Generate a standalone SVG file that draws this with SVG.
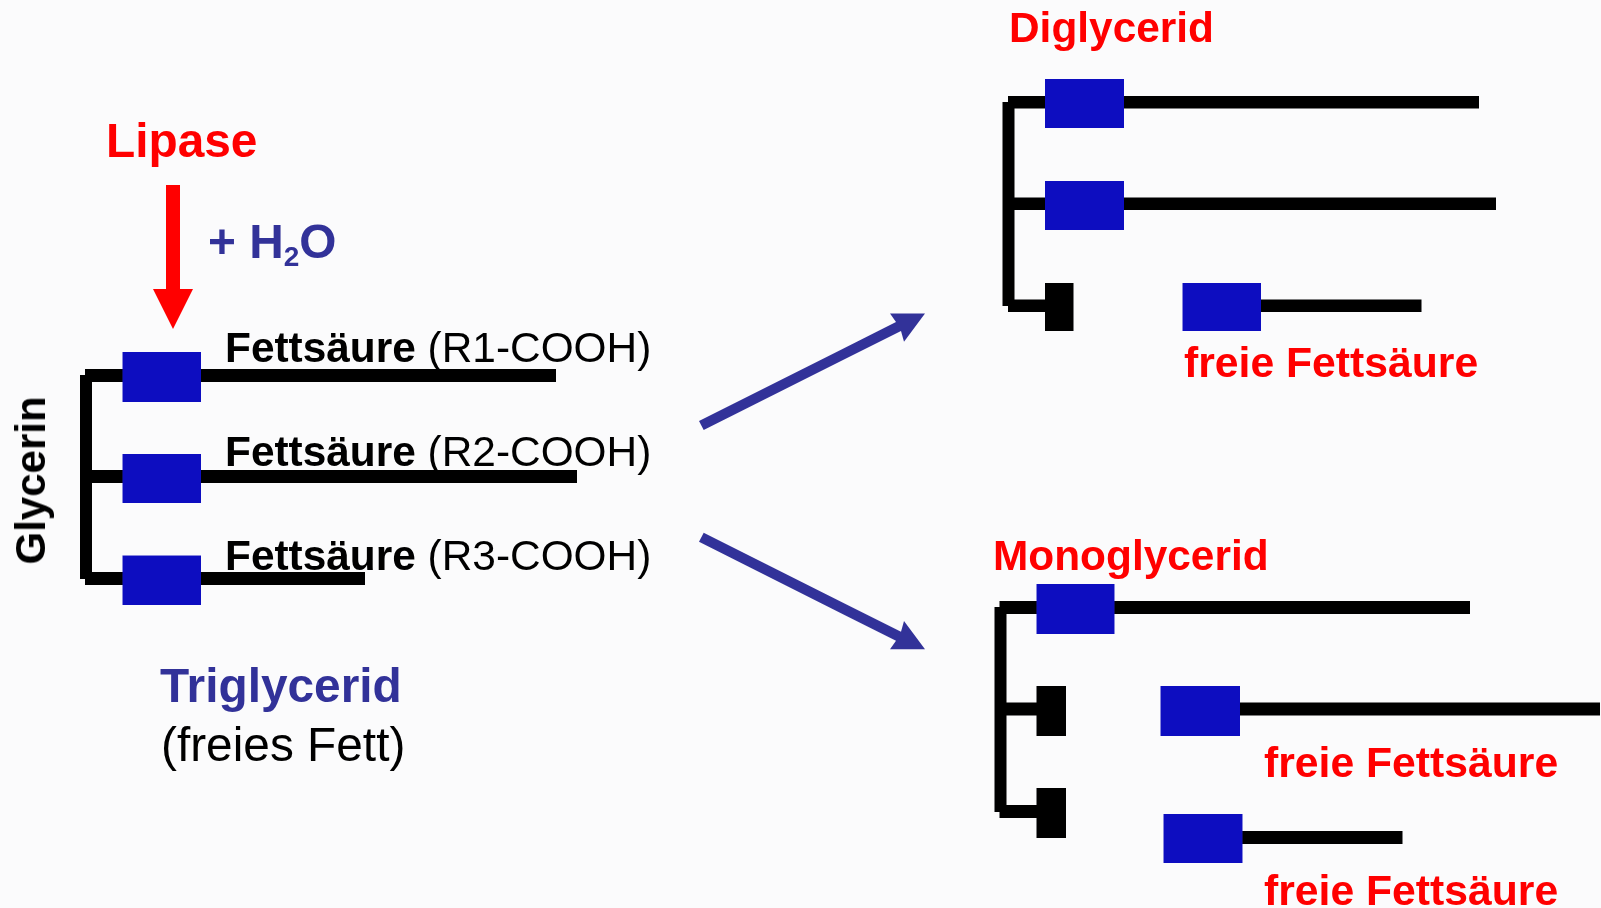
<svg xmlns="http://www.w3.org/2000/svg" width="1601" height="908" viewBox="0 0 1601 908">
<style>
text{font-family:"Liberation Sans",Arial,sans-serif;font-size:42.400px}
.b{font-weight:bold}
.r{fill:#ff0000}
.n{fill:#333399}
.k{fill:#000000}
.c{fill:#000005}
.g{fill:#0f10c0}
.f{font-size:42.700px}
.t{font-size:47.800px}
</style>
<defs><filter id="soft" x="0" y="0" width="1601" height="908" filterUnits="userSpaceOnUse"><feGaussianBlur stdDeviation="0.5"/></filter></defs>
<rect width="1601" height="908" fill="#fbfbfc"/>
<g filter="url(#soft)">
<g id="connectors">
<path class="r" d="M166 185H180V289H193L173 329L153 289H166Z"/>
<path class="n" d="M699 421L703.700 430L901 331L904 341.700L925 313.500H890L896 322Z"/>
<path class="n" d="M699 541.800L703.700 532.800L901 631.800L904 621.100L925 649.300H890L896 640.800Z"/>
</g>
<g id="lipase"><text class="b r t" x="106" y="156.500">Lipase</text></g>
<g id="water"><text class="b n t" x="208" y="258">+ H<tspan dy="8" style="font-size:28px">2</tspan><tspan dy="-8">O</tspan></text></g>
<g id="triglycerid">
<rect class="c" x="85" y="369" width="471" height="13"/>
<rect class="c" x="80" y="375" width="12" height="204"/>
<rect class="c" x="85" y="470" width="492" height="13"/>
<rect class="c" x="85" y="572" width="280" height="13"/>
<rect class="g" x="122.500" y="352" width="78.500" height="50"/>
<rect class="g" x="122.500" y="454" width="78.500" height="49"/>
<rect class="g" x="122.500" y="555.500" width="78.500" height="49.500"/>
<text class="b k" transform="translate(45 564.500) rotate(-90)" style="font-size:42px">Glycerin</text>
<text class="k" x="225" y="361.500"><tspan class="b">Fettsäure</tspan> (R1-COOH)</text>
<text class="k" x="225" y="465.500"><tspan class="b">Fettsäure</tspan> (R2-COOH)</text>
<text class="k" x="225" y="569.500"><tspan class="b">Fettsäure</tspan> (R3-COOH)</text>
<text class="b n t" x="160" y="702">Triglycerid</text>
<text class="k t" x="161" y="761">(freies Fett)</text>
</g>
<g id="diglycerid">
<text class="b r" x="1009" y="42">Diglycerid</text>
<rect class="c" x="1008" y="96" width="471" height="12.500"/>
<rect class="c" x="1002.500" y="102" width="12" height="204"/>
<rect class="c" x="1008" y="197.500" width="488" height="12.500"/>
<rect class="c" x="1008" y="299.500" width="40" height="12.500"/>
<rect class="g" x="1045" y="79" width="79" height="49"/>
<rect class="g" x="1045" y="181" width="79" height="49"/>
<rect class="k" x="1045" y="283" width="28.500" height="48"/>
</g>
<g id="fettsaeure-1">
<rect class="c" x="1250" y="299.500" width="171.500" height="12.500"/>
<rect class="g" x="1182.500" y="283" width="78.500" height="48"/>
<text class="b r f" x="1184" y="377">freie Fettsäure</text>
</g>
<g id="monoglycerid">
<text class="b r" x="993" y="570">Monoglycerid</text>
<rect class="c" x="999.500" y="601" width="470.500" height="13"/>
<rect class="c" x="994.500" y="607" width="12" height="205"/>
<rect class="c" x="999.500" y="702.500" width="40" height="13"/>
<rect class="c" x="999.500" y="805" width="40" height="13"/>
<rect class="g" x="1036.500" y="584" width="78" height="50"/>
<rect class="k" x="1036.500" y="686" width="29.500" height="50"/>
<rect class="k" x="1036.500" y="788" width="29.500" height="50"/>
</g>
<g id="fettsaeure-2">
<rect class="c" x="1230" y="702.500" width="370" height="13"/>
<rect class="g" x="1160.500" y="686" width="79.500" height="50"/>
<text class="b r f" x="1264" y="777">freie Fettsäure</text>
</g>
<g id="fettsaeure-3">
<rect class="c" x="1230" y="831" width="172.500" height="13"/>
<rect class="g" x="1163.500" y="814" width="79" height="49"/>
<text class="b r f" x="1264" y="905">freie Fettsäure</text>
</g>
</g>
</svg>
